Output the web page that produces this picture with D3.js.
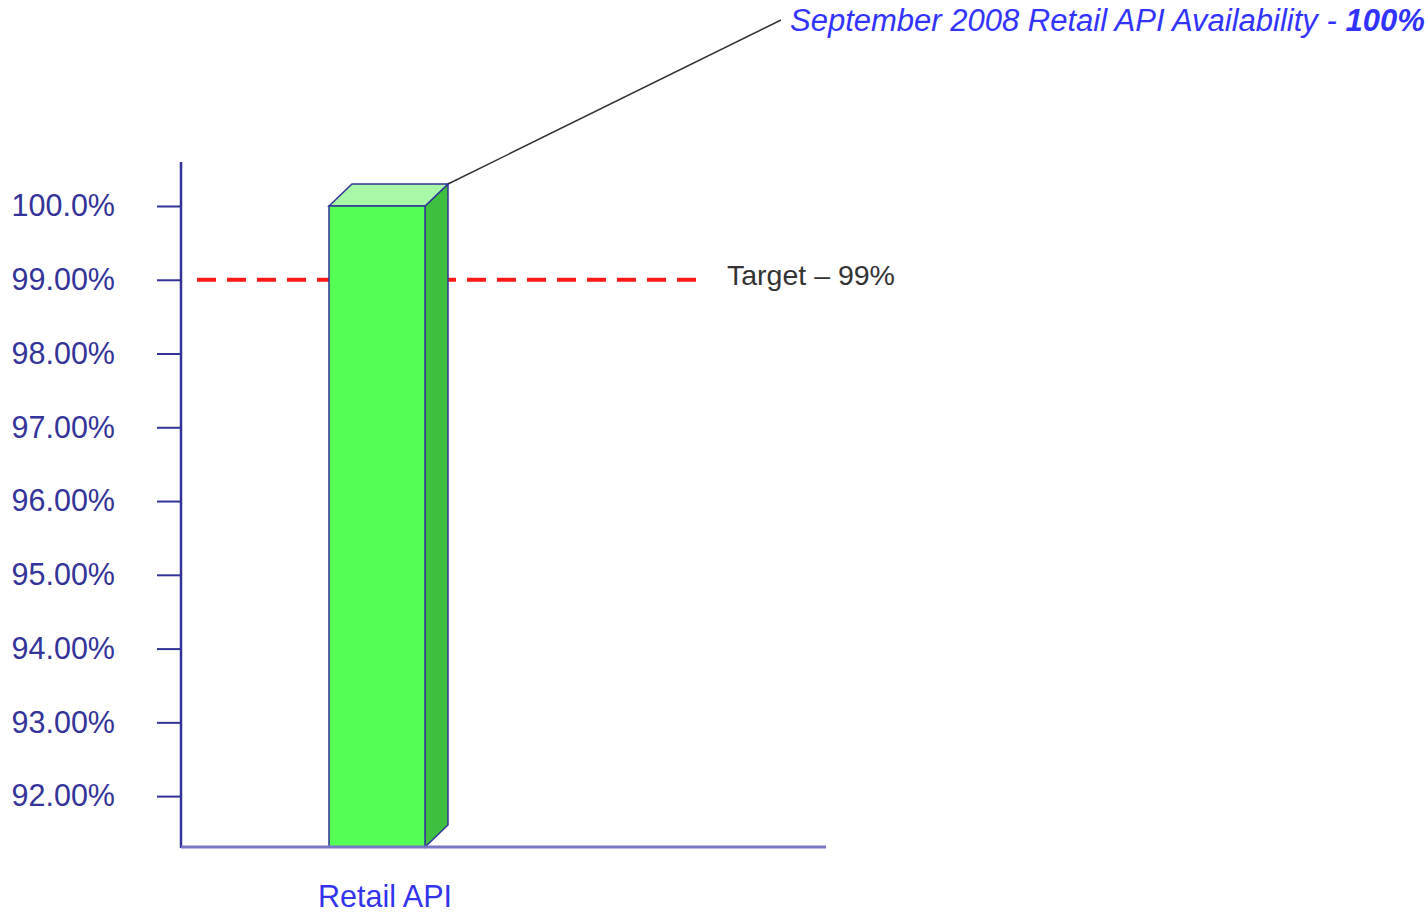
<!DOCTYPE html>
<html>
<head>
<meta charset="utf-8">
<script src="https://cdn.jsdelivr.net/npm/d3@7"></script>
<style>
  body { margin: 0; background: #fff; }
  svg { font-family: "Liberation Sans", Arial, sans-serif; }
</style>
</head>
<body>
<div id="chart"></div>
<script>
// data
let categories = ["Retail API"];
let values = [100];
let target = 99;
let yTicks = [92, 93, 94, 95, 96, 97, 98, 99, 100];
let tickLabels = ["92.00%", "93.00%", "94.00%", "95.00%", "96.00%", "97.00%", "98.00%", "99.00%", "100.0%"];
let title = "September 2008 Retail API Availability - ";
let titleValue = "100%";
let targetLabel = "Target \u2013 99%";

let width = 1428, height = 913;

let svg = d3.select("#chart")
    .append("svg")
        .attr("width", width)
        .attr("height", height);

let y = d3.scaleLinear()
    .domain([91.31, 100])
    .range([847, 206]);

let x = d3.scaleBand()
    .domain(categories)
    .range([181, 573])
    .paddingInner(0)
    .paddingOuter(0.36);

let axisColor = "#333399";

// target dashed line (behind bar)
svg.append("line")
    .attr("x1", 197).attr("x2", 702)
    .attr("y1", y(target)).attr("y2", y(target))
    .attr("stroke", "#ff1a1a")
    .attr("stroke-width", 4)
    .attr("stroke-dasharray", "19,11");

svg.append("text")
    .attr("x", 727)
    .attr("y", y(target) + 5)
    .attr("font-size", 28.5)
    .attr("fill", "#333")
    .text(targetLabel);

// y axis
let yAxis = svg.append("g")
    .attr("transform", "translate(181,0)")
    .call(d3.axisLeft(y).tickValues(yTicks).tickSize(24).tickPadding(42)
        .tickFormat((d, i) => tickLabels[i]));
yAxis.select(".domain").remove();
yAxis.selectAll(".tick line").attr("stroke", axisColor).attr("stroke-width", 2);
yAxis.selectAll(".tick text")
    .attr("fill", axisColor)
    .attr("font-size", 30.5)
    .attr("font-family", "Liberation Sans, Arial, sans-serif");

svg.append("line")
    .attr("x1", 181).attr("x2", 181)
    .attr("y1", 162).attr("y2", 848)
    .attr("stroke", axisColor).attr("stroke-width", 2.5);

// bars (3d)
let dx = 23, dy = 22;
let bw = 96;
let bars = svg.append("g").selectAll("g")
    .data(values)
    .enter()
    .append("g");

bars.each(function (d, i) {
    let g = d3.select(this);
    let x0 = x(categories[i]) + (x.bandwidth() - bw) / 2;
    let x1 = x0 + bw;
    let yt = y(d), yb = y.range()[0];
    g.append("polygon")
        .attr("points", [[x1, yt], [x1 + dx, yt - dy], [x1 + dx, yb - dy], [x1, yb]].join(" "))
        .attr("fill", "#3fbf3f")
        .attr("stroke", axisColor).attr("stroke-width", 1.5);
    g.append("polygon")
        .attr("points", [[x0, yt], [x0 + dx, yt - dy], [x1 + dx, yt - dy], [x1, yt]].join(" "))
        .attr("fill", "#a8f8a8")
        .attr("stroke", axisColor).attr("stroke-width", 1.5);
    g.append("rect")
        .attr("x", x0).attr("y", yt)
        .attr("width", bw).attr("height", yb - yt)
        .attr("fill", "#55ff55")
        .attr("stroke", axisColor).attr("stroke-width", 1.5);
});

// x axis
svg.append("line")
    .attr("x1", 181).attr("x2", 826)
    .attr("y1", 847).attr("y2", 847)
    .attr("stroke", "#7777c4").attr("stroke-width", 3);

svg.append("g").selectAll("text")
    .data(categories)
    .enter()
    .append("text")
    .attr("x", d => x(d) + x.bandwidth() / 2 + 8)
    .attr("y", 907)
    .attr("text-anchor", "middle")
    .attr("font-size", 30.5)
    .attr("fill", "#3333ee")
    .text(d => d);

// callout
let bx = x(categories[0]) + (x.bandwidth() - bw) / 2 + bw + dx;
svg.append("line")
    .attr("x1", bx).attr("y1", y(values[0]) - dy)
    .attr("x2", 781).attr("y2", 20)
    .attr("stroke", "#333").attr("stroke-width", 1.5);

let t = svg.append("text")
    .attr("x", 790)
    .attr("y", 31)
    .attr("font-size", 31)
    .attr("font-style", "italic")
    .attr("fill", "#3333ff");
t.append("tspan").text(title);
t.append("tspan").attr("font-weight", "bold").text(titleValue);
</script>
</body>
</html>
